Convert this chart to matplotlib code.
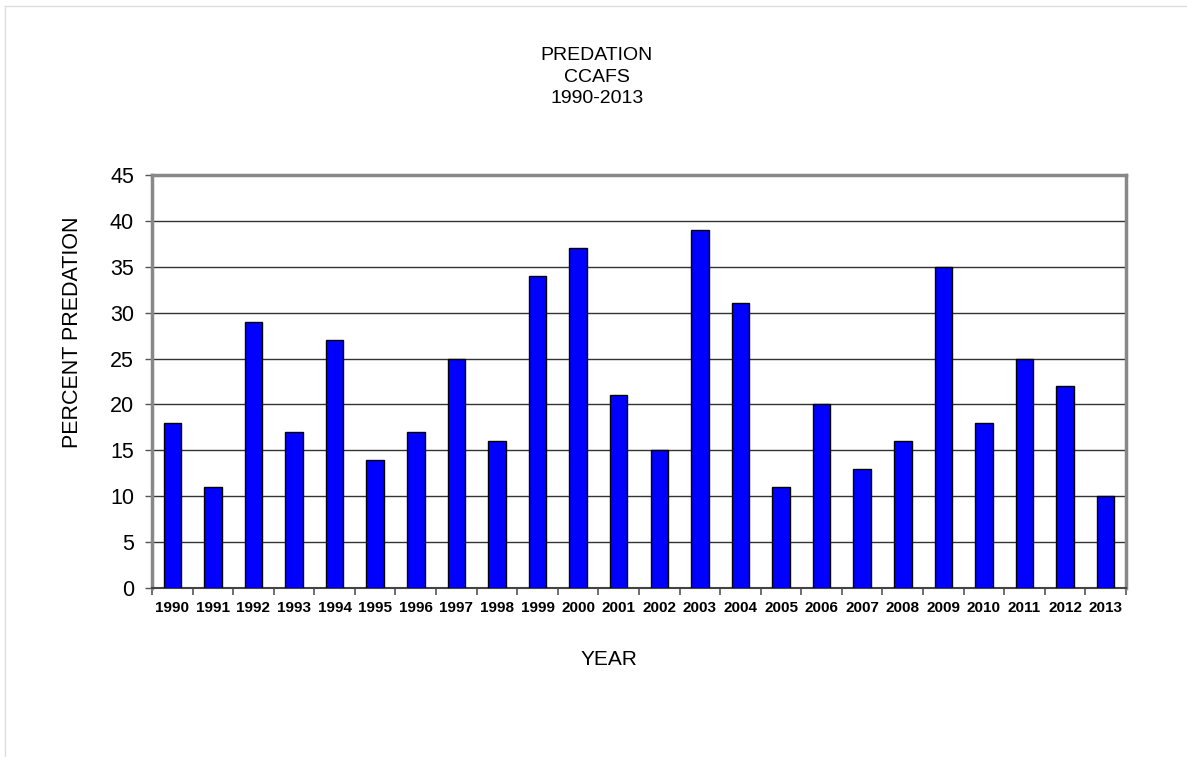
import matplotlib.pyplot as plt
import numpy as np
from matplotlib.lines import Line2D

years = [str(y) for y in range(1990, 2014)]
predation = [18, 11, 29, 17, 27, 14, 17, 25, 16, 34, 37, 21,
             15, 39, 31, 11, 20, 13, 16, 35, 18, 25, 22, 10]
y_ticks = list(range(0, 50, 5))

plt.rcParams['font.family'] = ['Liberation Sans', 'DejaVu Sans']

fig = plt.figure(figsize=(11.87, 7.57), dpi=100)
ax = fig.add_axes([152 / 1187, 1 - 588 / 757, (1126 - 152) / 1187, (588 - 175) / 757])

x = np.arange(len(years))
ax.bar(x, predation, width=0.43, color='#0000FF', edgecolor='black', linewidth=1.0, zorder=3)

ax.set_xlim(-0.5, len(years) - 0.5)
ax.set_ylim(0, 45)
ax.set_yticks(y_ticks)
ax.set_yticklabels([str(v) for v in y_ticks], fontsize=15.5)
ax.set_xticks(x)
ax.set_xticklabels(years, fontsize=11, fontweight='bold')
ax.set_xticks(np.arange(-0.5, len(years)), minor=True)
ax.tick_params(axis='x', which='major', length=0, pad=9)
ax.tick_params(axis='x', which='minor', length=5, width=1.2, color='#555555', direction='out')
ax.tick_params(axis='y', length=5, width=1, color='#555555', pad=8)

ax.grid(axis='y', color='#333333', linewidth=1, zorder=0)
for s in ax.spines.values():
    s.set_color('#888888')
    s.set_linewidth(2.5)
ax.spines['bottom'].set_color('#444444')
ax.spines['bottom'].set_linewidth(1.5)

ax.set_ylabel('PERCENT PREDATION', fontsize=15.5)
ax.yaxis.set_label_coords(-0.071, 0.62)
ax.set_xlabel('YEAR', fontsize=15)
ax.xaxis.set_label_coords(0.469, -0.15)

fig.text(597 / 1187, 1 - 77 / 757, 'PREDATION\nCCAFS\n1990-2013', ha='center', va='center',
         fontsize=14, linespacing=1.38)

# faint frame around the chart area
fig.add_artist(Line2D([5 / 1187, 5 / 1187], [0, 1 - 6 / 757], color='#dddddd', linewidth=1))
fig.add_artist(Line2D([5 / 1187, 1], [1 - 6 / 757, 1 - 6 / 757], color='#dddddd', linewidth=1))

plt.savefig('out.png', dpi=100)
